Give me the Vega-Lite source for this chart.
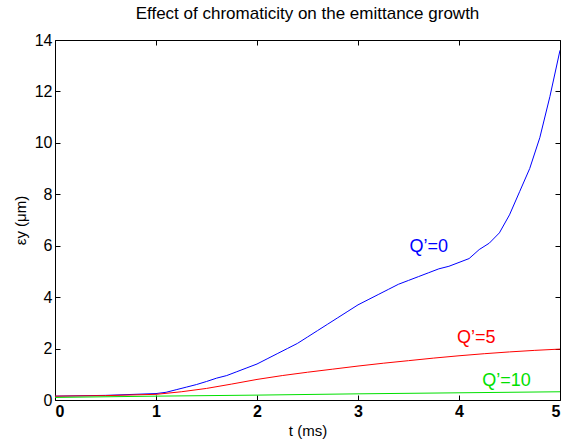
{
  "$schema": "https://vega.github.io/schema/vega-lite/v6.json",
  "width": 505,
  "height": 360,
  "autosize": "none",
  "padding": {"left": 55, "top": 40, "right": 7, "bottom": 41},
  "background": "white",
  "config": {
    "view": {"stroke": "black", "strokeWidth": 1},
    "font": "Liberation Sans",
    "axis": {"grid": false, "domain": false, "tickColor": "black", "tickSize": -5, "labelColor": "black", "titleColor": "black", "labelFont": "Liberation Sans", "titleFont": "Liberation Sans"}
  },
  "title": {"text": "Effect of chromaticity on the emittance growth", "fontSize": 17, "fontWeight": "normal", "font": "Liberation Sans", "color": "black", "offset": 9},
  "datasets": {
    "curves": [
      {"t": 0, "v": 0.15, "s": "Q'=0"}, {"t": 0.5, "v": 0.18, "s": "Q'=0"}, {"t": 1.0, "v": 0.25, "s": "Q'=0"},
      {"t": 1.1, "v": 0.3, "s": "Q'=0"}, {"t": 1.2, "v": 0.4, "s": "Q'=0"}, {"t": 1.3, "v": 0.5, "s": "Q'=0"},
      {"t": 1.4, "v": 0.6, "s": "Q'=0"}, {"t": 1.5, "v": 0.72, "s": "Q'=0"}, {"t": 1.6, "v": 0.85, "s": "Q'=0"},
      {"t": 1.7, "v": 0.95, "s": "Q'=0"}, {"t": 1.8, "v": 1.1, "s": "Q'=0"}, {"t": 1.9, "v": 1.25, "s": "Q'=0"},
      {"t": 2.0, "v": 1.4, "s": "Q'=0"}, {"t": 2.1, "v": 1.6, "s": "Q'=0"}, {"t": 2.2, "v": 1.8, "s": "Q'=0"},
      {"t": 2.3, "v": 2.0, "s": "Q'=0"}, {"t": 2.4, "v": 2.2, "s": "Q'=0"}, {"t": 2.5, "v": 2.45, "s": "Q'=0"},
      {"t": 2.6, "v": 2.7, "s": "Q'=0"}, {"t": 2.7, "v": 2.95, "s": "Q'=0"}, {"t": 2.8, "v": 3.2, "s": "Q'=0"},
      {"t": 2.9, "v": 3.45, "s": "Q'=0"}, {"t": 3.0, "v": 3.7, "s": "Q'=0"}, {"t": 3.1, "v": 3.9, "s": "Q'=0"},
      {"t": 3.2, "v": 4.1, "s": "Q'=0"}, {"t": 3.3, "v": 4.3, "s": "Q'=0"}, {"t": 3.4, "v": 4.5, "s": "Q'=0"},
      {"t": 3.5, "v": 4.65, "s": "Q'=0"}, {"t": 3.6, "v": 4.8, "s": "Q'=0"}, {"t": 3.7, "v": 4.95, "s": "Q'=0"},
      {"t": 3.8, "v": 5.1, "s": "Q'=0"}, {"t": 3.9, "v": 5.2, "s": "Q'=0"}, {"t": 4.0, "v": 5.35, "s": "Q'=0"},
      {"t": 4.1, "v": 5.5, "s": "Q'=0"}, {"t": 4.2, "v": 5.85, "s": "Q'=0"}, {"t": 4.3, "v": 6.1, "s": "Q'=0"},
      {"t": 4.4, "v": 6.5, "s": "Q'=0"}, {"t": 4.5, "v": 7.2, "s": "Q'=0"}, {"t": 4.6, "v": 8.1, "s": "Q'=0"},
      {"t": 4.7, "v": 9.0, "s": "Q'=0"}, {"t": 4.8, "v": 10.2, "s": "Q'=0"}, {"t": 4.9, "v": 11.8, "s": "Q'=0"},
      {"t": 5.0, "v": 13.6, "s": "Q'=0"},
      {"t": 0, "v": 0.15, "s": "Q'=5"}, {"t": 0.5, "v": 0.17, "s": "Q'=5"}, {"t": 1.0, "v": 0.22, "s": "Q'=5"},
      {"t": 1.25, "v": 0.32, "s": "Q'=5"}, {"t": 1.5, "v": 0.45, "s": "Q'=5"}, {"t": 1.75, "v": 0.62, "s": "Q'=5"},
      {"t": 2.0, "v": 0.8, "s": "Q'=5"}, {"t": 2.25, "v": 0.95, "s": "Q'=5"}, {"t": 2.5, "v": 1.08, "s": "Q'=5"},
      {"t": 2.75, "v": 1.2, "s": "Q'=5"}, {"t": 3.0, "v": 1.32, "s": "Q'=5"}, {"t": 3.25, "v": 1.43, "s": "Q'=5"},
      {"t": 3.5, "v": 1.53, "s": "Q'=5"}, {"t": 3.75, "v": 1.63, "s": "Q'=5"}, {"t": 4.0, "v": 1.72, "s": "Q'=5"},
      {"t": 4.25, "v": 1.8, "s": "Q'=5"}, {"t": 4.5, "v": 1.87, "s": "Q'=5"}, {"t": 4.75, "v": 1.93, "s": "Q'=5"},
      {"t": 5.0, "v": 1.98, "s": "Q'=5"},
      {"t": 0, "v": 0.1, "s": "Q'=10"}, {"t": 1.0, "v": 0.15, "s": "Q'=10"}, {"t": 2.0, "v": 0.19, "s": "Q'=10"},
      {"t": 3.0, "v": 0.24, "s": "Q'=10"}, {"t": 4.0, "v": 0.28, "s": "Q'=10"}, {"t": 5.0, "v": 0.32, "s": "Q'=10"}
    ],
    "labels": [
      {"t": 3.7, "v": 5.95, "txt": "Q’=0", "s": "Q'=0"},
      {"t": 4.17, "v": 2.4, "txt": "Q’=5", "s": "Q'=5"},
      {"t": 4.47, "v": 0.75, "txt": "Q’=10", "s": "Q'=10"}
    ]
  },
  "layer": [
    {
      "data": {"name": "curves"},
      "mark": {"type": "line", "strokeWidth": 1, "clip": true},
      "encoding": {
        "x": {"field": "t", "type": "quantitative", "scale": {"domain": [0, 5], "nice": false}, "axis": {"orient": "bottom", "values": [0, 1, 2, 3, 4, 5], "title": "t (ms)", "labelFontSize": 16, "labelFontWeight": "bold", "titleFontSize": 15, "titleFontWeight": "normal", "titlePadding": 4, "labelPadding": 8}},
        "y": {"field": "v", "type": "quantitative", "scale": {"domain": [0, 14], "nice": false}, "axis": {"orient": "left", "values": [0, 2, 4, 6, 8, 10, 12, 14], "title": "εy (μm)", "labelFontSize": 16, "labelFontWeight": "normal", "titleFontSize": 15, "titleFontWeight": "normal", "titlePadding": 6, "labelPadding": 8}},
        "color": {"field": "s", "type": "nominal", "scale": {"domain": ["Q'=0", "Q'=5", "Q'=10"], "range": ["#0000ff", "#ff0000", "#00e000"]}, "legend": null},
        "order": {"field": "t", "type": "quantitative"}
      }
    },
    {
      "data": {"name": "labels"},
      "mark": {"type": "text", "fontSize": 18, "font": "Liberation Sans", "align": "center", "baseline": "middle"},
      "encoding": {
        "x": {"field": "t", "type": "quantitative", "axis": null},
        "y": {"field": "v", "type": "quantitative", "axis": null},
        "text": {"field": "txt"},
        "color": {"field": "s", "type": "nominal", "legend": null}
      }
    },
    {
      "data": {"name": "labels"},
      "mark": {"type": "point", "opacity": 0},
      "encoding": {
        "x": {"field": "t", "type": "quantitative", "axis": {"orient": "top", "values": [0, 1, 2, 3, 4, 5], "labels": false, "title": null}},
        "y": {"field": "v", "type": "quantitative", "axis": {"orient": "right", "values": [0, 2, 4, 6, 8, 10, 12, 14], "labels": false, "title": null}}
      }
    }
  ],
  "resolve": {"axis": {"x": "independent", "y": "independent"}}
}
